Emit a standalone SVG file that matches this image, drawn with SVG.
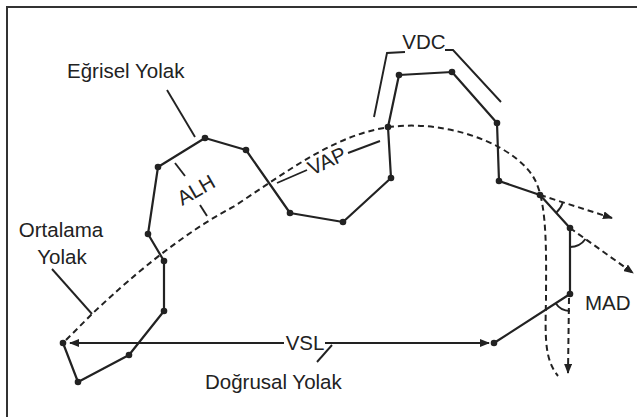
<svg xmlns="http://www.w3.org/2000/svg" width="637" height="417" viewBox="0 0 637 417">
<style>
.t{font-family:"Liberation Sans",Arial,sans-serif;font-size:20.5px;fill:#222}
.s{fill:none;stroke:#222;stroke-width:2.2;stroke-linejoin:round;stroke-linecap:round}
.d{fill:none;stroke:#222;stroke-width:2;stroke-dasharray:6 4}
.l{fill:none;stroke:#222;stroke-width:1.9}
.dot{fill:#222}
</style>
<defs>
<marker id="ah" viewBox="0 0 10 8" refX="9" refY="4" markerWidth="10" markerHeight="8" markerUnits="userSpaceOnUse" orient="auto-start-reverse">
<path d="M0,0 L10,4 L0,8 Z" fill="#222"/>
</marker>
<marker id="ahd" viewBox="0 0 10 8" refX="9" refY="4" markerWidth="10" markerHeight="8" markerUnits="userSpaceOnUse" orient="auto">
<path d="M0,0 L10,4 L0,8 Z" fill="#222"/>
</marker>
</defs>
<rect width="637" height="417" fill="#fff"/>
<rect x="7" y="7" width="640" height="420" fill="none" stroke="#333" stroke-width="2"/>

<g id="connectors">
<polyline class="s" points="63,343 78,382 129,355 164,311 164,261 148,234 158,167 205,138 246,150 290,213 343,222 391,178 388,127 399,75 452,72 497,123 499,181 540,195 570,228 570,294 494,343"/>
<path class="d" d="M66,340 L92,314 C110,297 170,240 233,207 C290,170 340,130 400,126 C460,122 520,150 535,180 C548,205 546,260 546,300 C545,340 545,360 558,376"/>
<line class="l" x1="70" y1="343" x2="284" y2="343" marker-start="url(#ah)"/>
<line class="l" x1="325" y1="343" x2="489" y2="343" marker-end="url(#ah)"/>
<line class="d" x1="540" y1="195" x2="612" y2="218" marker-end="url(#ahd)"/>
<line class="d" x1="570" y1="228" x2="633" y2="273" marker-end="url(#ahd)"/>
<line class="d" x1="569" y1="298" x2="568" y2="373" marker-end="url(#ahd)"/>
<path class="l" d="M562.9,202.3 A24,24 0 0 1 556.2,212.8"/>
<path class="l" d="M585.5,239 A19,19 0 0 1 570,247"/>
<path class="l" d="M555.7,303.3 A17,17 0 0 0 570,311"/>
<line class="l" x1="167" y1="90" x2="195" y2="137"/>
<line class="l" x1="52" y1="269" x2="92" y2="314"/>
<line class="l" x1="175" y1="163" x2="185" y2="176"/>
<line class="l" x1="200" y1="205" x2="207" y2="216"/>
<line class="l" x1="277" y1="183" x2="307" y2="170"/>
<line class="l" x1="348" y1="153" x2="380" y2="141"/>
<line class="l" x1="332" y1="345" x2="317" y2="362"/>
<polyline class="l" points="374,117 387,53 405,52"/>
<polyline class="l" points="445,50 453,50 501,102"/>
</g>

<g id="dots">
<circle class="dot" cx="63" cy="343" r="3.3"/>
<circle class="dot" cx="78" cy="382" r="3.3"/>
<circle class="dot" cx="129" cy="355" r="3.3"/>
<circle class="dot" cx="164" cy="311" r="3.3"/>
<circle class="dot" cx="164" cy="261" r="3.3"/>
<circle class="dot" cx="148" cy="234" r="3.3"/>
<circle class="dot" cx="158" cy="167" r="3.3"/>
<circle class="dot" cx="205" cy="138" r="3.3"/>
<circle class="dot" cx="246" cy="150" r="3.3"/>
<circle class="dot" cx="290" cy="213" r="3.3"/>
<circle class="dot" cx="343" cy="222" r="3.3"/>
<circle class="dot" cx="391" cy="178" r="3.3"/>
<circle class="dot" cx="388" cy="127" r="3.3"/>
<circle class="dot" cx="399" cy="75" r="3.3"/>
<circle class="dot" cx="452" cy="72" r="3.3"/>
<circle class="dot" cx="497" cy="123" r="3.3"/>
<circle class="dot" cx="499" cy="181" r="3.3"/>
<circle class="dot" cx="540" cy="195" r="3.3"/>
<circle class="dot" cx="570" cy="228" r="3.3"/>
<circle class="dot" cx="570" cy="294" r="3.3"/>
<circle class="dot" cx="494" cy="343" r="3.3"/>
</g>

<g id="label-egrisel"><text class="t" x="67" y="78">Eğrisel Yolak</text></g>
<g id="label-ortalama"><text class="t" text-anchor="middle" x="61" y="237">Ortalama</text><text class="t" text-anchor="middle" x="62" y="264">Yolak</text></g>
<g id="label-dogrusal"><text class="t" x="205" y="389">Doğrusal Yolak</text></g>
<g id="label-vsl"><text class="t" text-anchor="middle" x="305" y="350">VSL</text></g>
<g id="label-vdc"><text class="t" text-anchor="middle" x="424" y="49">VDC</text></g>
<g id="label-mad"><text class="t" x="585" y="310">MAD</text></g>
<g id="label-alh"><text class="t" text-anchor="middle" x="196" y="197" transform="rotate(-30 196 190)">ALH</text></g>
<g id="label-vap"><text class="t" text-anchor="middle" x="327" y="168" transform="rotate(-25 327 161)">VAP</text></g>
</svg>
